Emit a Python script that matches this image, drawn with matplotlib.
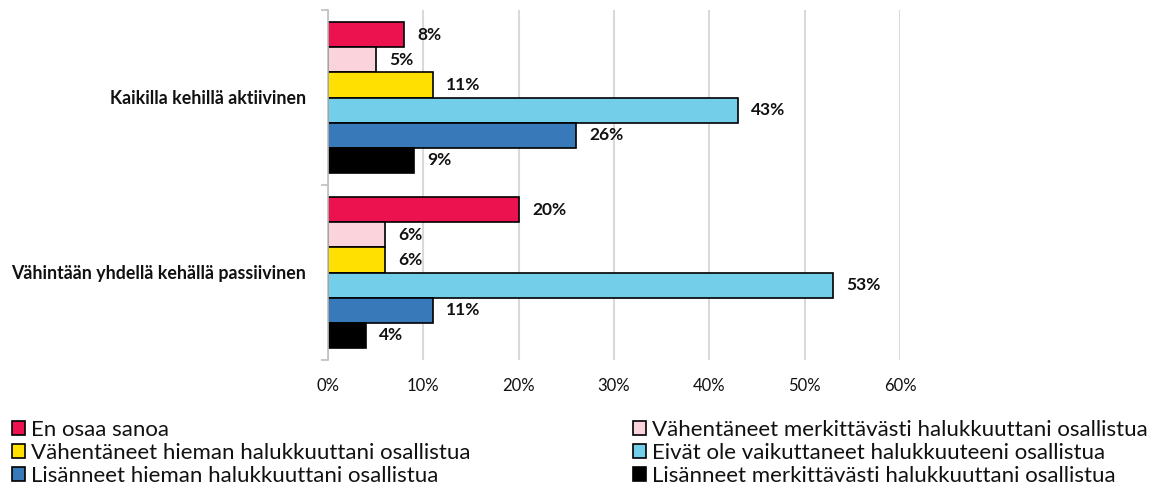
import numpy as np
import matplotlib.pyplot as plt
from matplotlib.patches import Patch

plt.rcParams['font.family'] = ['Lato', 'DejaVu Sans']

# categories (top to bottom)
groups = ['Kaikilla kehillä aktiivinen', 'Vähintään yhdellä kehällä passiivinen']

# series, in the order they are stacked inside each group (top to bottom)
series = ['En osaa sanoa',
          'Vähentäneet merkittävästi halukkuuttani osallistua',
          'Vähentäneet hieman halukkuuttani osallistua',
          'Eivät ole vaikuttaneet halukkuuteeni osallistua',
          'Lisänneet hieman halukkuuttani osallistua',
          'Lisänneet merkittävästi halukkuuttani osallistua']
colors = ['#EC1250', '#FAD3DD', '#FFE000', '#73CEE9', '#3779B9', '#000000']

# values per series: [aktiivinen, passiivinen]
en_osaa = [0.08, 0.20]
vah_merk = [0.05, 0.06]
vah_hieman = [0.11, 0.06]
eivat = [0.43, 0.53]
lis_hieman = [0.26, 0.11]
lis_merk = [0.09, 0.04]
values = [en_osaa, vah_merk, vah_hieman, eivat, lis_hieman, lis_merk]

xticks = [0, 0.1, 0.2, 0.3, 0.4, 0.5, 0.6]

fig = plt.figure(figsize=(11.61, 4.92), dpi=100)
ax = fig.add_axes([328 / 1161, 1 - 360 / 492, (900 - 328) / 1161, 350 / 492])

n = len(series)
bar_h = 0.143
y0 = np.arange(len(groups))
for i, (name, col, vals) in enumerate(zip(series, colors, values)):
    ypos = y0 - (n / 2 - 0.5 - i) * bar_h
    ax.barh(ypos, vals, height=bar_h, color=col, edgecolor='black', linewidth=1.2, zorder=3)
    for y, v in zip(ypos, vals):
        ax.text(v + 0.014, y, f'{v * 100:.0f}%', va='center', ha='left',
                fontsize=12.5, fontweight='bold', color='#111111', zorder=4)

ax.set_xlim(0, 0.6)
ax.set_ylim(1.5, -0.5)
ax.set_xticks(xticks)
ax.set_xticklabels([f'{t * 100:.0f}%' for t in xticks], fontsize=12, color='#111111')
ax.tick_params(axis='x', length=0, pad=13)
ax.set_yticks(y0)
ax.set_yticklabels(groups, fontsize=12.8, fontweight='bold', color='#111111')
ax.tick_params(axis='y', which='major', length=0, pad=16)
ax.set_yticks([-0.5, 0.5, 1.5], minor=True)
ax.tick_params(axis='y', which='minor', length=5, color='#BFBFBF', width=1.2)

ax.grid(axis='x', color='#D9D9D9', linewidth=1.5, zorder=0)
for s in ['top', 'right', 'bottom']:
    ax.spines[s].set_visible(False)
ax.spines['left'].set_color('#BFBFBF')
ax.spines['left'].set_linewidth(1.2)
ax.spines['left'].set_zorder(5)

handles = [Patch(facecolor=c, edgecolor='black', linewidth=1.2) for c in colors]
leg_kw = dict(frameon=False, fontsize=16, handlelength=0.6, handleheight=0.6,
              handletextpad=0.25, labelspacing=0.13, borderaxespad=0, borderpad=0,
              labelcolor='#111111')
leg1 = fig.legend([handles[0], handles[2], handles[4]], [series[0], series[2], series[4]],
                  loc='upper left', bbox_to_anchor=(12 / 1161, 1 - 420 / 492), **leg_kw)
leg2 = fig.legend([handles[1], handles[3], handles[5]], [series[1], series[3], series[5]],
                  loc='upper left', bbox_to_anchor=(633 / 1161, 1 - 420 / 492), **leg_kw)

fig.savefig('out.png', dpi=100)
